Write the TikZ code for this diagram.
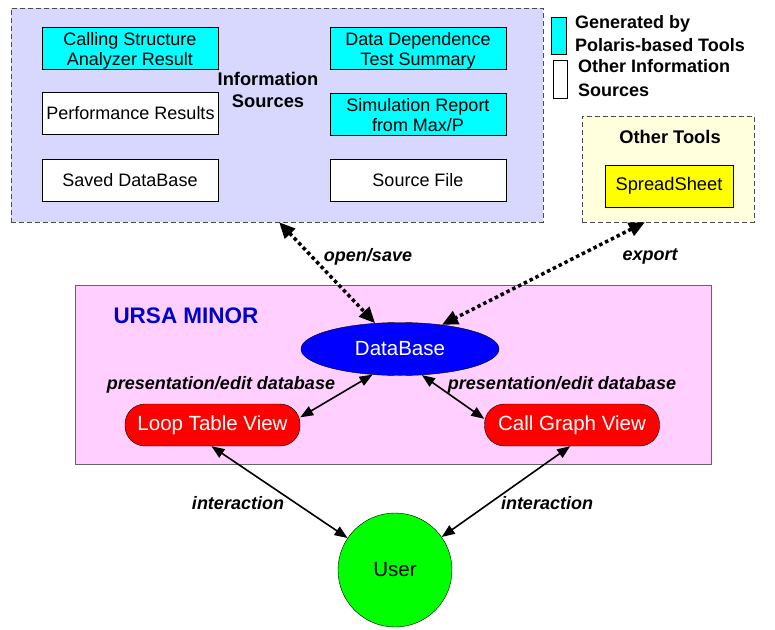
\documentclass[tikz,border=0pt]{standalone}
\usepackage{fontspec}
\setmainfont{Liberation Sans}
\usetikzlibrary{arrows.meta,shapes.geometric,calc}
\definecolor{lav}{RGB}{216,216,255}
\definecolor{pinkbg}{RGB}{255,208,255}
\definecolor{ltyellow}{RGB}{255,255,222}
\definecolor{ursablue}{RGB}{0,0,200}
\definecolor{gencyan}{RGB}{0,255,255}
\definecolor{usergreen}{RGB}{0,255,0}
\definecolor{dbblue}{RGB}{0,0,255}
\definecolor{viewred}{RGB}{255,0,0}
\definecolor{spyellow}{RGB}{255,255,0}
\tikzset{
  srcbox/.style={draw=black, fill=white, minimum width=176pt, minimum height=42pt, inner sep=1pt, align=center, font=\fontsize{18}{20}\selectfont},
  genbox/.style={srcbox, fill=gencyan, text depth=0pt},
  viewbox/.style={draw=black, fill=viewred, rounded corners=20pt, minimum width=175pt, minimum height=42pt, text=white, font=\fontsize{20.5}{24}\selectfont},
  boldlbl/.style={font=\fontsize{18.3}{22}\selectfont\bfseries, align=center},
  edgelbl/.style={font=\fontsize{18}{21}\selectfont\bfseries\itshape},
  groupbox/.style={draw=black!70, dash pattern=on 5pt off 3pt, inner sep=0pt},
  dotarrow/.style={line width=3.5pt, dash pattern=on 3.5pt off 3pt, {Triangle[length=16pt,width=14pt]}-{Triangle[length=16pt,width=14pt]}},
  solarrow/.style={line width=1.6pt, {Triangle[length=13pt,width=10pt]}-{Triangle[length=13pt,width=10pt]}}
}
\begin{document}
\begin{tikzpicture}[x=1pt,y=-1pt]
\useasboundingbox (0,0) rectangle (775,629);
% Information sources
\node[groupbox, fill=lav, minimum width=532pt, minimum height=214pt] (info) at (277,115) {};
\node[genbox] (csa) at (130,48.5) {Calling Structure\\Analyzer Result};
\node[genbox] (ddt) at (418,48.5) {Data Dependence\\Test Summary};
\node[srcbox] (perf) at (130.5,113.5) {Performance Results};
\node[genbox] (sim) at (418,114.5) {Simulation Report\\from Max/P};
\node[srcbox] (saved) at (130,180.5) {Saved DataBase};
\node[srcbox] (srcf) at (418,180) {Source File};
\node[boldlbl] (infolbl) at (268,90) {Information\\Sources};
% legend
\node[draw=black, fill=gencyan, minimum width=15pt, minimum height=37pt, inner sep=0pt] (leg1) at (558.5,35.5) {};
\node[draw=black, fill=white, minimum width=14pt, minimum height=38pt, inner sep=0pt] (leg2) at (560,79) {};
\node[font=\fontsize{18}{23}\selectfont\bfseries, align=left, anchor=west, inner sep=0pt] (leg1t) at (575,34) {Generated by\\Polaris-based Tools};
\node[font=\fontsize{18}{24}\selectfont\bfseries, align=left, anchor=west, inner sep=0pt] (leg2t) at (578,78) {Other Information\\Sources};
% other tools
\node[groupbox, fill=ltyellow, minimum width=172pt, minimum height=106pt] (other) at (668,169) {};
\node[boldlbl] (otherlbl) at (670,137) {Other Tools};
\node[draw=black, fill=spyellow, minimum width=128pt, minimum height=42pt, font=\fontsize{18.3}{22}\selectfont] (spread) at (669,186) {SpreadSheet};
% URSA MINOR
\node[draw=black!60, fill=pinkbg, minimum width=636pt, minimum height=179pt, inner sep=0pt] (ursa) at (393,374.5) {};
\node[font=\fontsize{22.5}{26}\selectfont\bfseries, text=ursablue] (ursalbl) at (186,316) {URSA MINOR};
\node[ellipse, draw=black, fill=dbblue, minimum width=198pt, minimum height=53pt, inner sep=0pt, text=white, font=\fontsize{20.5}{24}\selectfont] (db) at (400,349) {DataBase};
\node[viewbox] (loop) at (212.5,425) {Loop Table View};
\node[viewbox] (cg) at (572,425) {Call Graph View};
% user
\node[circle, draw=black, fill=usergreen, minimum size=114pt, inner sep=0pt, font=\fontsize{20.5}{24}\selectfont] (user) at (395,570) {User};
% connectors
\draw[dotarrow] ($(info.south west)!0.504!(info.south east)$) -- (db.134);
\draw[dotarrow] ($(other.south west)!0.366!(other.south east)$) -- (db.30);
\draw[solarrow] (loop.5) -- (db.223);
\draw[solarrow] (db.-50) -- (cg.176);
\draw[solarrow] (loop.-93) -- (user);
\draw[solarrow] (cg.-95) -- (user);
% labels
\node[edgelbl] (l1) at (368,257) {open/save};
\node[edgelbl] (l2) at (650,256) {export};
\node[edgelbl] (l3) at (221,385) {presentation/edit database};
\node[edgelbl] (l4) at (562,385) {presentation/edit database};
\node[edgelbl] (l5) at (238,503) {interaction};
\node[edgelbl] (l6) at (547,503) {interaction};
\end{tikzpicture}
\end{document}
